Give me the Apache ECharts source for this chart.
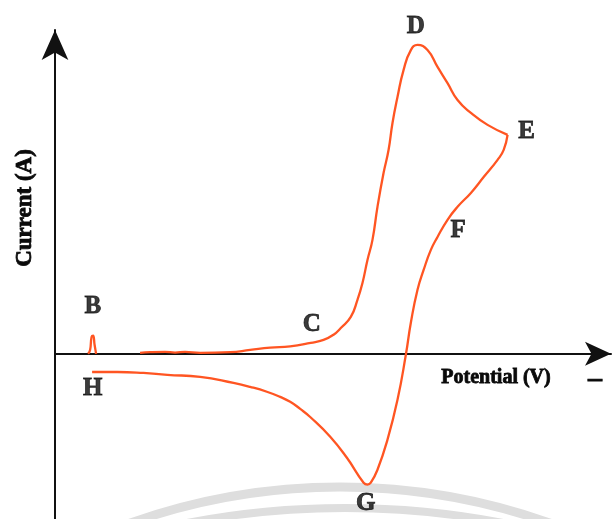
<!DOCTYPE html>
<html>
<head>
<meta charset="utf-8">
<script src="https://cdn.jsdelivr.net/npm/echarts@6/dist/echarts.min.js"></script>
<style>
  html, body { margin: 0; padding: 0; background: #ffffff; }
  #chart { width: 613px; height: 519px; }
</style>
</head>
<body>
<div id="chart"></div>
<script>
// Cyclic voltammogram: potential (arbitrary units) vs current (arbitrary units)

// Small excursion at the start of the sweep (B)
const spikeB = [[5.95, 0], [6.31, 1.2], [6.58, 5.2], [6.85, 5.6], [7.12, 2.8], [7.39, 0]];

// Forward (anodic) sweep: baseline -> C -> peak D -> switching point E
const forwardScan = [
  [15.3, 0.3], [17.1, 0.5], [19.8, 0.6], [21.6, 0.4], [23.4, 0.6], [26.1, 0.3],
  [31.5, 0.5], [35.1, 1.2], [38.7, 1.9], [42.3, 2.3], [46.0, 3.4], [48.3, 4.3],
  [50.1, 5.9], [51.4, 8.0], [53.2, 11.4], [54.4, 16.7],
  [55.3, 21.9], [56.2, 29.0], [57.1, 35.2], [58.0, 45.4], [59.1, 55.9], [60.0, 63.0],
  [60.7, 71.3], [61.6, 79.3], [62.7, 87.7], [64.0, 93.8], [65.2, 95.4], [67.0, 93.8],
  [68.8, 88.6], [70.6, 83.6], [72.4, 78.4], [74.8, 74.4], [77.8, 70.7], [81.4, 67.6]
];

// Reverse (cathodic) sweep: E -> F -> peak G -> H
const reverseScan = [
  [81.4, 67.6], [80.7, 63.0], [79.6, 59.9], [77.1, 54.6], [74.8, 49.7], [72.4, 45.4],
  [70.6, 41.4], [68.8, 36.1], [67.6, 32.1], [66.3, 25.9], [65.2, 19.8], [64.0, 9.6],
  [63.1, -0.3], [61.6, -14.2], [59.8, -26.5], [58.0, -35.8], [56.8, -39.8], [56.2, -40.4],
  [55.5, -39.8], [52.5, -32.1], [49.5, -25.6], [45.9, -19.5], [44.1, -17.0], [42.3, -14.8],
  [40.5, -13.3], [38.1, -11.7], [35.1, -10.2], [32.1, -9.0], [26.1, -7.1], [20.2, -6.5],
  [15.9, -5.9], [11.2, -5.6], [6.67, -5.6]
];

// Point annotations [potential, current, letter]
const pointLabels = [
  [6.8, 14.5, 'B'],
  [46.2, 9.0, 'C'],
  [64.9, 101.1, 'D'],
  [84.8, 68.7, 'E'],
  [72.5, 38.0, 'F'],
  [55.9, -46.1, 'G'],
  [6.8, -10.8, 'H']
];

const axisTitleX = 'Potential (V)';
const axisTitleY = 'Current (A)';

const curveColor = '#ff5522';
const ink = '#0a0a0a';
const serif = '"Liberation Serif", "Times New Roman", serif';

const chart = echarts.init(document.getElementById('chart'), null, { renderer: 'canvas' });

const curveSeries = (data) => ({
  type: 'line',
  data: data,
  showSymbol: false,
  smooth: 0.5,
  clip: false,
  lineStyle: { color: curveColor, width: 2.3 },
  z: 3
});

// heavy serif lettering (bold plus a thin outline of the same ink)
const heavyText = (text, size) => ({
  text: text,
  font: 'bold ' + size + 'px ' + serif,
  fill: ink,
  stroke: ink,
  lineWidth: 0.8,
  textAlign: 'center',
  textVerticalAlign: 'middle'
});

chart.setOption({
  backgroundColor: '#ffffff',
  animation: false,
  grid: { left: 55, right: 2, top: 30, bottom: 0 },
  xAxis: {
    type: 'value',
    min: 0,
    max: 100,
    axisLine: {
      onZero: true,
      symbol: ['none', 'arrow'],
      symbolSize: [18, 26],
      lineStyle: { color: '#111111', width: 2 }
    },
    axisTick: { show: false },
    axisLabel: { show: false },
    splitLine: { show: false }
  },
  yAxis: {
    type: 'value',
    min: -51,
    max: 100,
    axisLine: {
      show: true,
      onZero: false,
      symbol: ['none', 'arrow'],
      symbolSize: [20, 30],
      lineStyle: { color: '#111111', width: 2 }
    },
    axisTick: { show: false },
    axisLabel: { show: false },
    splitLine: { show: false }
  },
  graphic: [
    // faint background arcs near the bottom edge
    {
      type: 'circle', silent: true, z: -10,
      shape: { cx: 340, cy: 1115, r: 628 },
      style: { fill: 'none', stroke: '#dedede', lineWidth: 9 }
    },
    {
      type: 'circle', silent: true, z: -10,
      shape: { cx: 345, cy: 1342, r: 834 },
      style: { fill: 'none', stroke: '#dedede', lineWidth: 8 }
    },
    { type: 'text', x: 496, y: 378, style: heavyText(axisTitleX, 20) },
    { type: 'text', x: 595, y: 379, style: heavyText('–', 28) },
    { type: 'text', x: 25, y: 208, rotation: Math.PI / 2, style: heavyText(axisTitleY, 23) }
  ],
  series: [
    curveSeries(spikeB),
    curveSeries(forwardScan),
    curveSeries(reverseScan),
    {
      type: 'scatter',
      data: pointLabels,
      symbolSize: 0,
      clip: false,
      silent: true,
      label: {
        show: true,
        position: 'inside',
        formatter: (p) => p.data[2],
        color: ink,
        textBorderColor: ink,
        textBorderWidth: 0.8,
        fontFamily: serif,
        fontWeight: 'bold',
        fontSize: 25
      },
      z: 4
    }
  ]
});
</script>
</body>
</html>
